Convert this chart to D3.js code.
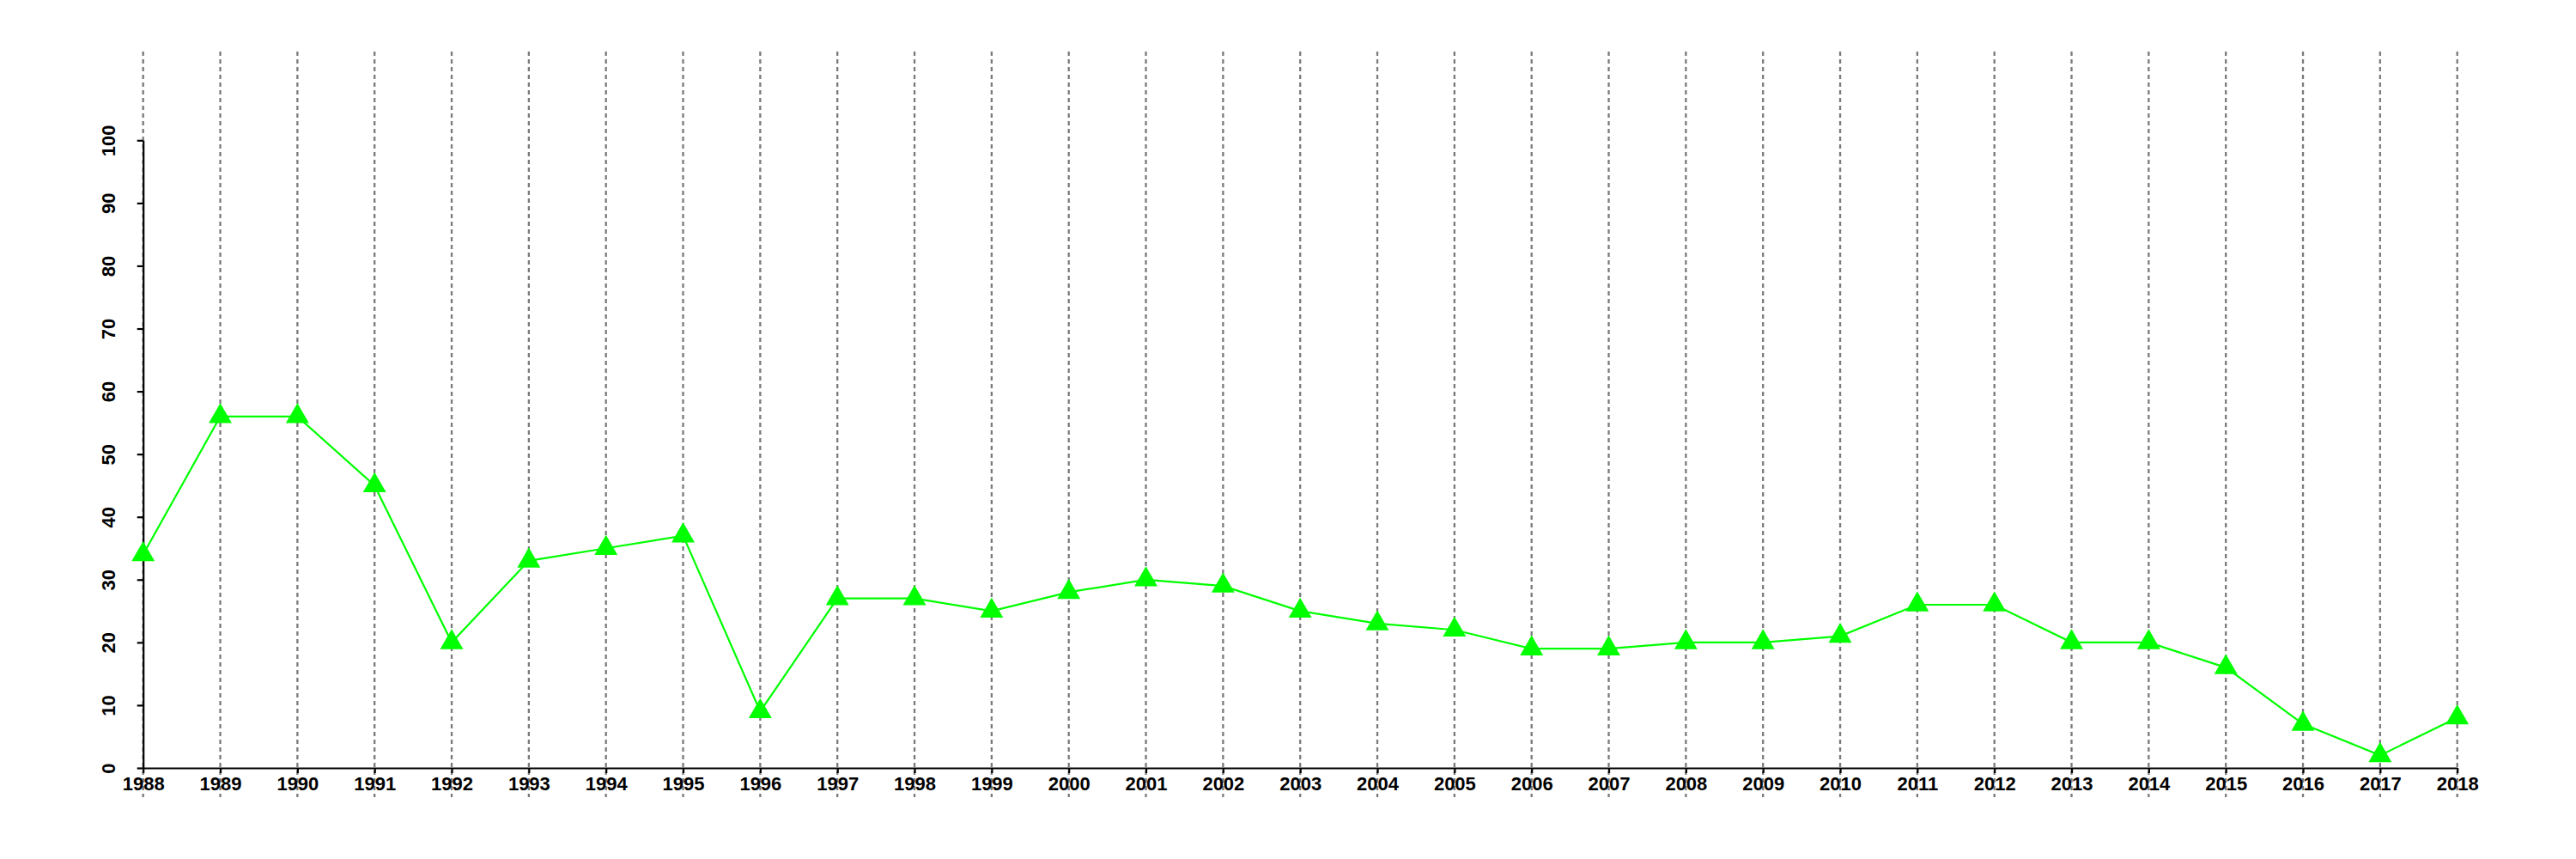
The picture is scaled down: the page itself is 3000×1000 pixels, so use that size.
<!DOCTYPE html>
<html>
<head>
<meta charset="utf-8">
<script src="https://cdn.jsdelivr.net/npm/d3@7"></script>
<style>
  html, body { margin: 0; padding: 0; background: #fff; }
  svg { display: block; }
  text { font-family: "Liberation Sans", Arial, Helvetica, sans-serif; font-weight: bold; }
</style>
</head>
<body>
<script>
const years = [1988,1989,1990,1991,1992,1993,1994,1995,1996,1997,1998,1999,2000,2001,2002,2003,2004,2005,2006,2007,2008,2009,2010,2011,2012,2013,2014,2015,2016,2017,2018];
const values = [34,56,56,45,20,33,35,37,9,27,27,25,28,30,29,25,23,22,19,19,20,20,21,26,26,20,20,16,7,2,8];
const yTicks = [0,10,20,30,40,50,60,70,80,90,100];

const W = 3000, H = 1000;
const svg = d3.select("body").append("svg").attr("width", W).attr("height", H);

const x = d3.scaleLinear().domain([1988, 2018]).range([166.7, 2861.7]);
const y = d3.scaleLinear().domain([0, 100]).range([894, 163.3]);

// vertical dotted grid lines
svg.append("g").selectAll("line").data(years).join("line")
  .attr("x1", d => x(d)).attr("x2", d => x(d))
  .attr("y1", 60).attr("y2", 928)
  .attr("stroke", "#7a7a7a").attr("stroke-width", 2.3)
  .attr("stroke-dasharray", "5,4");

// y axis
const yAxis = svg.append("g").attr("transform", `translate(${x(1988)},0)`)
  .call(d3.axisLeft(y).tickValues(yTicks).tickSize(7).tickSizeOuter(0).tickPadding(0));
yAxis.select(".domain").attr("stroke", "#000").attr("stroke-width", 2.2);
yAxis.selectAll(".tick line").attr("stroke", "#000").attr("stroke-width", 2.2);
yAxis.selectAll(".tick text")
  .attr("x", null).attr("dy", null)
  .attr("text-anchor", "middle")
  .attr("transform", "translate(-33,0) rotate(-90)")
  .attr("font-size", 22).attr("fill", "#000")
  .style("font-family", "'Liberation Sans', Arial, sans-serif").style("font-weight", "bold");

// x axis
const xAxis = svg.append("g").attr("transform", `translate(0,${y(0)})`)
  .call(d3.axisBottom(x).tickValues(years).tickFormat(d3.format("d")).tickSize(6).tickSizeOuter(0).tickPadding(0));
xAxis.select(".domain").attr("stroke", "#000").attr("stroke-width", 2.2);
xAxis.selectAll(".tick line").attr("stroke", "#000").attr("stroke-width", 2.2);
xAxis.selectAll(".tick text")
  .attr("y", 26).attr("dy", null)
  .attr("font-size", 22).attr("fill", "#000")
  .style("font-family", "'Liberation Sans', Arial, sans-serif").style("font-weight", "bold");

// line
const data = years.map((yr, i) => ({ yr, v: values[i] }));
svg.append("path").datum(data)
  .attr("fill", "none").attr("stroke", "#00ff00").attr("stroke-width", 2.2)
  .attr("d", d3.line().x(d => x(d.yr)).y(d => y(d.v)));

// triangle markers
const tri = d3.symbol().type(d3.symbolTriangle).size(314);
svg.append("g").selectAll("path").data(data).join("path")
  .attr("transform", d => `translate(${x(d.yr)},${y(d.v)})`)
  .attr("d", tri)
  .attr("fill", "#00ff00");
</script>
</body>
</html>
